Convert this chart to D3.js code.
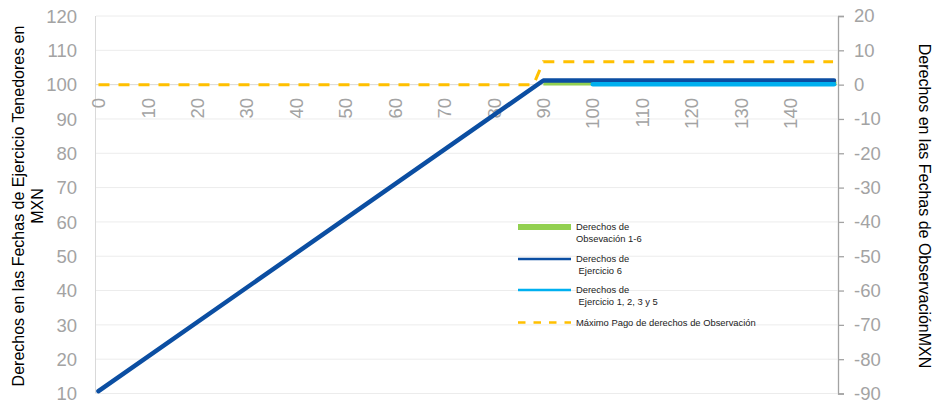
<!DOCTYPE html>
<html>
<head>
<meta charset="utf-8">
<script src="https://cdn.jsdelivr.net/npm/d3@7"></script>
<style>
  body { margin: 0; background: #fff; }
  svg { display: block; font-family: "Liberation Sans", Arial, sans-serif; }
</style>
</head>
<body>
<svg id="chart" width="932" height="406"></svg>
<script>
// tick labels
const xTicks = [0, 10, 20, 30, 40, 50, 60, 70, 80, 90, 100, 110, 120, 130, 140];
const leftTicks = [10, 20, 30, 40, 50, 60, 70, 80, 90, 100, 110, 120];
const rightTicks = [-90, -80, -70, -60, -50, -40, -30, -20, -10, 0, 10, 20];

// series (corner points)
const ejercicio6X = [0, 90, 148.8];
const ejercicio6Y = [10.7, 101.2, 101.2];           // left axis
const observacionX = [90, 149.3];
const observacionY = [0.3, 0.3];                    // right axis
const ejercicio1235X = [100, 148.8];
const ejercicio1235Y = [100.1, 100.1];              // left axis
const maximoX = [0, 88, 90, 148.6];
const maximoY = [0, 0, 6.7, 6.7];                   // right axis

const legendLabels = [
    ["Derechos de", "Obsevación 1-6"],
    ["Derechos de", " Ejercicio 6"],
    ["Derechos de", " Ejercicio 1, 2, 3 y 5"],
    ["Máximo Pago de derechos de Observación"]
];

const svg = d3.select("#chart");
const x = d3.scaleLinear().domain([-0.5, 149.5]).range([96, 837.5]);
const yL = d3.scaleLinear().domain([10, 120]).range([393.5, 16]);
const yR = d3.scaleLinear().domain([-90, 20]).range([393.5, 16]);
const gray = "#a3a3a3";

// gridlines
svg.append("g").selectAll("line").data(leftTicks).join("line")
    .attr("x1", 96).attr("x2", 837.5)
    .attr("y1", d => yL(d)).attr("y2", d => yL(d))
    .attr("stroke", d => d === 100 ? "#d9d9d9" : "#ececec").attr("stroke-width", 1);

// left axis: line only, no ticks
svg.append("line").attr("x1", 95.5).attr("x2", 95.5).attr("y1", 16).attr("y2", 393.5)
    .attr("stroke", "#d9d9d9");
svg.append("g").selectAll("text").data(leftTicks).join("text")
    .attr("x", 77).attr("y", d => yL(d)).attr("dy", "0.36em")
    .attr("text-anchor", "end").attr("font-size", 18.5).attr("fill", gray)
    .text(d => d);

// right axis
const rAxis = svg.append("g").attr("transform", "translate(838,0)")
    .call(d3.axisRight(yR).tickValues(rightTicks).tickSize(6).tickPadding(10).tickFormat(d => d < 0 ? "-" + Math.abs(d) : d));
rAxis.select(".domain").attr("stroke", gray).attr("stroke-width", 1.3);
rAxis.selectAll(".tick line").attr("stroke", gray).attr("stroke-width", 1.3);
rAxis.selectAll(".tick text").attr("font-size", 18.5).attr("fill", gray)
    .attr("font-family", "Liberation Sans, Arial, sans-serif");

// x labels, rotated, hanging under the 100 line
svg.append("g").selectAll("text").data(xTicks).join("text")
    .attr("transform", d => `translate(${x(d)},98) rotate(-90)`)
    .attr("dy", "0.36em").attr("text-anchor", "end")
    .attr("font-size", 18.5).attr("fill", gray)
    .text(d => d);

// axis titles
const lt = svg.append("text").attr("transform", "translate(18,206) rotate(-90)")
    .attr("text-anchor", "middle").attr("font-size", 16).attr("fill", "#000");
lt.append("tspan").attr("x", 0).attr("dy", "0.36em").text("Derechos en las Fechas de Ejercicio Tenedores en");
lt.append("tspan").attr("x", 0).attr("dy", "1.2em").text("MXN");

svg.append("text").attr("transform", "translate(925,206) rotate(90)")
    .attr("text-anchor", "middle").attr("dy", "0.36em").attr("font-size", 16).attr("fill", "#000")
    .text("Derechos en las Fechas de ObservaciónMXN");

// series
const line = (xs, ys, yScale) => d3.line().x((d, i) => x(xs[i])).y(d => yScale(d))(ys);

svg.append("path").attr("d", line(observacionX, observacionY, yR))
    .attr("fill", "none").attr("stroke", "#92d050").attr("stroke-width", 4);
svg.append("path").attr("d", line(ejercicio6X, ejercicio6Y, yL))
    .attr("fill", "none").attr("stroke", "#0b4ea2").attr("stroke-width", 4.5)
    .attr("stroke-linejoin", "round").attr("stroke-linecap", "round");
svg.append("path").attr("d", line(ejercicio1235X, ejercicio1235Y, yL))
    .attr("fill", "none").attr("stroke", "#00b0f0").attr("stroke-width", 4.5)
    .attr("stroke-linecap", "round");
svg.append("path").attr("d", line(maximoX, maximoY, yR))
    .attr("fill", "none").attr("stroke", "#ffc000").attr("stroke-width", 3)
    .attr("stroke-dasharray", "11,9");

// legend
const legendStyles = [
    { color: "#92d050", width: 6, dash: null, y: 227 },
    { color: "#0b4ea2", width: 2.3, dash: null, y: 259 },
    { color: "#00b0f0", width: 2.3, dash: null, y: 290 },
    { color: "#ffc000", width: 2.3, dash: "7.5,8", y: 322.5 }
];
const lg = svg.append("g");
legendLabels.forEach((lines, i) => {
    const s = legendStyles[i];
    lg.append("line").attr("x1", 518).attr("x2", 571).attr("y1", s.y).attr("y2", s.y)
        .attr("stroke", s.color).attr("stroke-width", s.width)
        .attr("stroke-dasharray", s.dash);
    const t = lg.append("text").attr("font-size", 9.4).attr("fill", "#222")
        .attr("xml:space", "preserve");
    lines.forEach((l, j) => {
        t.append("tspan").attr("x", 576).attr("y", s.y + j * 11.7).attr("dy", "0.36em").text(l);
    });
});
</script>
</body>
</html>
